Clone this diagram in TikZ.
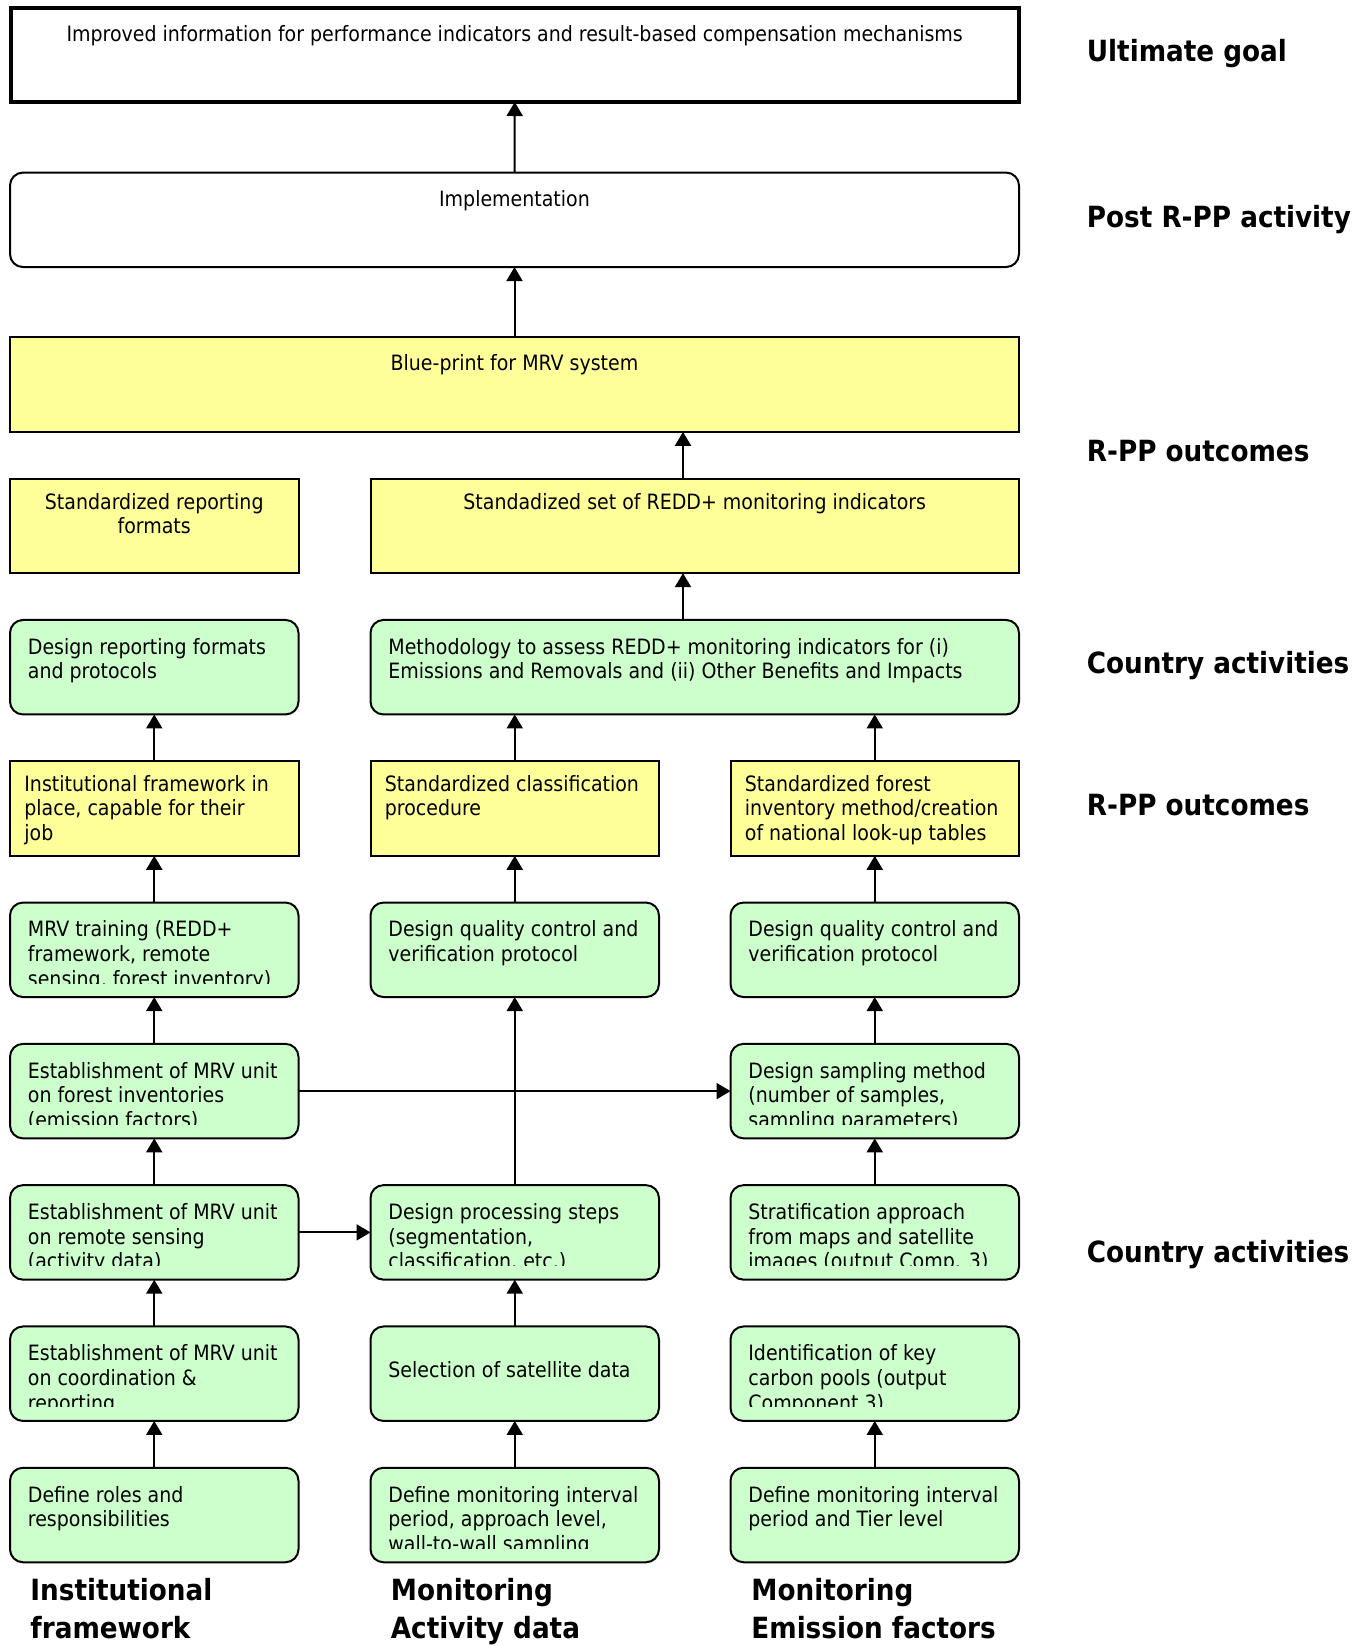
\documentclass[tikz,border=0pt]{standalone}
\usepackage{fontspec}
\setmainfont{DejaVu Sans Condensed}
\usetikzlibrary{arrows.meta}
\definecolor{grn}{HTML}{CCFFCC}
\definecolor{yel}{HTML}{FFFF99}
\newcommand\Ltxt[1]{\vtop{\baselineskip=12.3pt\lineskiplimit=-20pt\halign{##\hfil\cr#1\crcr}}}
\newcommand\Ctxt[1]{\vtop{\baselineskip=12.3pt\lineskiplimit=-20pt\halign{\hfil##\hfil\cr#1\crcr}}}
\newcommand\Btxt[1]{\vtop{\baselineskip=19.15pt\lineskiplimit=-20pt\halign{##\hfil\cr#1\crcr}}}
\newcommand\GText[2]{\begin{scope}\clip (#1.north west) rectangle ([yshift=7pt]#1.south east);
  \node[txt] at ([xshift=8.75pt,yshift=-17.2pt]#1.north west) {\Ltxt{#2}};\end{scope}}
\newcommand\YText[2]{\node[txt] at ([xshift=7pt,yshift=-15pt]#1.north west) {\Ltxt{#2}};}
\tikzset{
  box/.style={draw=black, line width=1pt, inner sep=0pt, outer sep=0pt, minimum height=47.25pt},
  colw/.style={minimum width=144.25pt},
  widew/.style={minimum width=504.5pt},
  midw/.style={minimum width=324.25pt},
  gbox/.style={box, fill=grn, rounded corners=6.5pt},
  ybox/.style={box, fill=yel},
  wbox/.style={box, fill=white, rounded corners=6.5pt},
  goal/.style={draw=black, line width=2pt, inner sep=0pt, outer sep=0pt, minimum width=504.25pt, minimum height=47pt},
  txt/.style={inner sep=0pt, anchor=base west},
  ctxt/.style={inner sep=0pt, anchor=base},
  lbl/.style={inner sep=0pt, anchor=base west, font=\fontsize{14.6pt}{19pt}\selectfont\bfseries},
  arr/.style={line width=1pt, -{Triangle[length=7pt,width=8pt]}}
}
\begin{document}
\begin{tikzpicture}[x=0.5pt,y=-0.5pt,font=\fontsize{10.55pt}{12.3pt}\selectfont]
\useasboundingbox (0,0) rectangle (1369,1646);
% boxes
\node[goal] (ult) at (514.75,55) {};
\node[wbox,widew] (impl) at (514.5,219.8) {};
\node[ybox,widew] (blue) at (514.5,384.6) {};
\node[ybox,colw] (stdrep) at (154.25,525.9) {};
\node[ybox,midw] (stdset) at (694.75,525.9) {};
\node[gbox,colw] (desrep) at (154.25,667.2) {};
\node[gbox,midw] (meth) at (694.75,667.2) {};
\node[ybox,colw] (instfw) at (154.25,808.5) {};
\node[ybox,colw] (stdcls) at (514.75,808.5) {};
\node[ybox,colw] (stdfor) at (874.75,808.5) {};
\node[gbox,colw] (mrvtr) at (154.25,949.8) {};
\node[gbox,colw] (qcm) at (514.75,949.8) {};
\node[gbox,colw] (qcr) at (874.75,949.8) {};
\node[gbox,colw] (estfor) at (154.25,1091.1) {};
\node[gbox,colw] (samp) at (874.75,1091.1) {};
\node[gbox,colw] (estrs) at (154.25,1232.4) {};
\node[gbox,colw] (proc) at (514.75,1232.4) {};
\node[gbox,colw] (strat) at (874.75,1232.4) {};
\node[gbox,colw] (coord) at (154.25,1373.7) {};
\node[gbox,colw] (sel) at (514.75,1373.7) {};
\node[gbox,colw] (ident) at (874.75,1373.7) {};
\node[gbox,colw] (roles) at (154.25,1515) {};
\node[gbox,colw] (defm) at (514.75,1515) {};
\node[gbox,colw] (defr) at (874.75,1515) {};
% texts
\node[ctxt] at ([yshift=-16.7pt]ult.north) {Improved information for performance indicators and result-based compensation mechanisms};
\node[ctxt] at ([yshift=-17.2pt]impl.north) {Implementation};
\node[ctxt] at ([yshift=-16.6pt]blue.north) {Blue-print for MRV system};
\node[ctxt] at ([yshift=-15.25pt]stdrep.north) {\Ctxt{Standardized reporting\cr formats}};
\node[ctxt] at ([yshift=-15.5pt]stdset.north) {Standadized set of REDD+ monitoring indicators};
\GText{desrep}{Design reporting formats\cr and protocols}
\GText{meth}{Methodology to assess REDD+ monitoring indicators for (i)\cr Emissions and Removals and (ii) Other Benefits and Impacts}
\YText{instfw}{Institutional framework in\cr place, capable for their\cr job}
\YText{stdcls}{Standardized classification\cr procedure}
\YText{stdfor}{Standardized forest\cr inventory method/creation\cr of national look-up tables}
\GText{mrvtr}{MRV training (REDD+\cr framework, remote\cr sensing, forest inventory)}
\GText{qcm}{Design quality control and\cr verification protocol}
\GText{qcr}{Design quality control and\cr verification protocol}
\GText{estfor}{Establishment of MRV unit\cr on forest inventories\cr (emission factors)}
\GText{samp}{Design sampling method\cr (number of samples,\cr sampling parameters)}
\GText{estrs}{Establishment of MRV unit\cr on remote sensing\cr (activity data)}
\GText{proc}{Design processing steps\cr (segmentation,\cr classification, etc.)}
\GText{strat}{Stratification approach\cr from maps and satellite\cr images (output Comp. 3)}
\GText{coord}{Establishment of MRV unit\cr on coordination \&\cr reporting}
\node[txt] at ([xshift=8.75pt,yshift=-25.6pt]sel.north west) {Selection of satellite data};
\GText{ident}{Identification of key\cr carbon pools (output\cr Component 3)}
\GText{roles}{Define roles and\cr responsibilities}
\GText{defm}{Define monitoring interval\cr period, approach level,\cr wall-to-wall sampling}
\GText{defr}{Define monitoring interval\cr period and Tier level}
% side labels
\node[lbl] (l1) at (1086.5,61.7) {Ultimate goal};
\node[lbl] (l2) at (1086.5,227) {Post R-PP activity};
\node[lbl] (l3) at (1086.5,461) {R-PP outcomes};
\node[lbl] (l4) at (1086.5,673.5) {Country activities};
\node[lbl] (l5) at (1086.5,815) {R-PP outcomes};
\node[lbl] (l6) at (1086.5,1262) {Country activities};
\node[lbl] (b1) at (30,1600) {\Btxt{Institutional\cr framework}};
\node[lbl] (b2) at (390.5,1600) {\Btxt{Monitoring\cr Activity data}};
\node[lbl] (b3) at (751,1600) {\Btxt{Monitoring\cr Emission factors}};
% arrows
\coordinate (ax) at (683,0);
\draw[arr] (impl.north) -- (ult.south);
\draw[arr] (blue.north) -- (impl.south);
\draw[arr] (stdset.north -| ax) -- (blue.south -| ax);
\draw[arr] (meth.north -| ax) -- (stdset.south -| ax);
\draw[arr] (stdcls.north) -- (stdcls.north |- meth.south);
\draw[arr] (stdfor.north) -- (stdfor.north |- meth.south);
\draw[arr] (instfw.north) -- (desrep.south);
\draw[arr] (mrvtr.north) -- (instfw.south);
\draw[arr] (qcm.north) -- (stdcls.south);
\draw[arr] (qcr.north) -- (stdfor.south);
\draw[arr] (estfor.north) -- (mrvtr.south);
\draw[arr] (samp.north) -- (qcr.south);
\draw[arr] (estfor.east) -- (samp.west);
\draw[arr] (proc.north) -- (qcm.south);
\draw[arr] (estrs.north) -- (estfor.south);
\draw[arr] (estrs.east) -- (proc.west);
\draw[arr] (strat.north) -- (samp.south);
\draw[arr] (coord.north) -- (estrs.south);
\draw[arr] (sel.north) -- (proc.south);
\draw[arr] (roles.north) -- (coord.south);
\draw[arr] (defm.north) -- (sel.south);
\draw[arr] (defr.north) -- (ident.south);
\end{tikzpicture}
\end{document}
